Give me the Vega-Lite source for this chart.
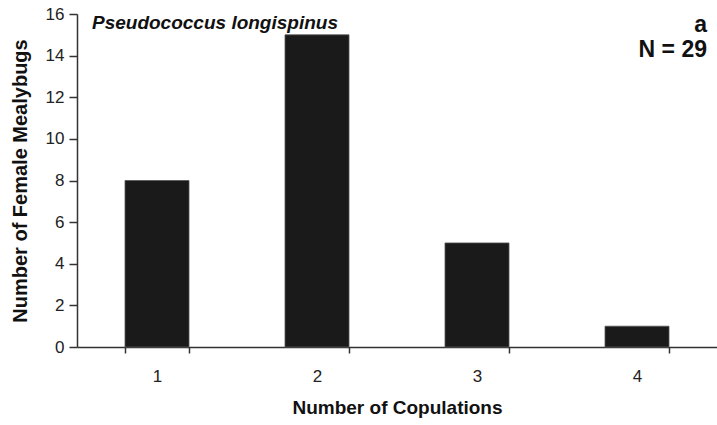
{
  "$schema": "https://vega.github.io/schema/vega-lite/v6.json",
  "width": 640,
  "height": 333,
  "autosize": "none",
  "padding": {"left": 77, "top": 14, "right": 0, "bottom": 78},
  "background": "white",
  "config": {
    "view": {"stroke": null},
    "font": "Liberation Sans",
    "axis": {
      "grid": false,
      "domainColor": "#333333",
      "tickColor": "#333333",
      "domainWidth": 1.5,
      "tickWidth": 1.5,
      "labelColor": "#222222",
      "titleColor": "#111111",
      "labelFont": "Liberation Sans",
      "titleFont": "Liberation Sans",
      "labelFontSize": 17,
      "titleFontSize": 19,
      "titleFontWeight": "bold"
    }
  },
  "data": {
    "values": [
      {"copulations": "1", "females": 8},
      {"copulations": "2", "females": 15},
      {"copulations": "3", "females": 5},
      {"copulations": "4", "females": 1}
    ]
  },
  "layer": [
    {
      "mark": {"type": "bar", "color": "#1a1a1a", "stroke": "#555555", "strokeWidth": 0.8},
      "encoding": {
        "x": {
          "field": "copulations",
          "type": "ordinal",
          "scale": {"paddingInner": 0.6, "paddingOuter": 0.3},
          "axis": {
            "title": "Number of Copulations",
            "labelAngle": 0,
            "tickBand": "extent",
            "tickSize": 6,
            "labelPadding": 15,
            "titlePadding": 14
          }
        },
        "y": {
          "field": "females",
          "type": "quantitative",
          "scale": {"domain": [0, 16], "nice": false},
          "axis": {
            "title": "Number of Female Mealybugs",
            "titleFontSize": 20,
            "values": [0, 2, 4, 6, 8, 10, 12, 14, 16],
            "tickSize": 8,
            "labelPadding": 5,
            "titlePadding": 15
          }
        }
      }
    },
    {
      "data": {"values": [{"label": "Pseudococcus longispinus", "copulations": "1", "females": 16}]},
      "mark": {"type": "text", "align": "left", "baseline": "middle", "font": "Liberation Sans", "fontSize": 19, "fontWeight": "bold", "fontStyle": "italic", "color": "#111111", "dx": -65, "dy": 9},
      "encoding": {
        "x": {"field": "copulations", "type": "ordinal"},
        "y": {"field": "females", "type": "quantitative"},
        "text": {"field": "label"}
      }
    },
    {
      "data": {"values": [{"label": "a", "copulations": "4", "females": 16}]},
      "mark": {"type": "text", "align": "right", "baseline": "middle", "font": "Liberation Sans", "fontSize": 23, "fontWeight": "bold", "color": "#111111", "dx": 70, "dy": 11},
      "encoding": {
        "x": {"field": "copulations", "type": "ordinal"},
        "y": {"field": "females", "type": "quantitative"},
        "text": {"field": "label"}
      }
    },
    {
      "data": {"values": [{"label": "N = 29", "copulations": "4", "females": 16}]},
      "mark": {"type": "text", "align": "right", "baseline": "middle", "font": "Liberation Sans", "fontSize": 23, "fontWeight": "bold", "color": "#111111", "dx": 70, "dy": 36},
      "encoding": {
        "x": {"field": "copulations", "type": "ordinal"},
        "y": {"field": "females", "type": "quantitative"},
        "text": {"field": "label"}
      }
    }
  ]
}
